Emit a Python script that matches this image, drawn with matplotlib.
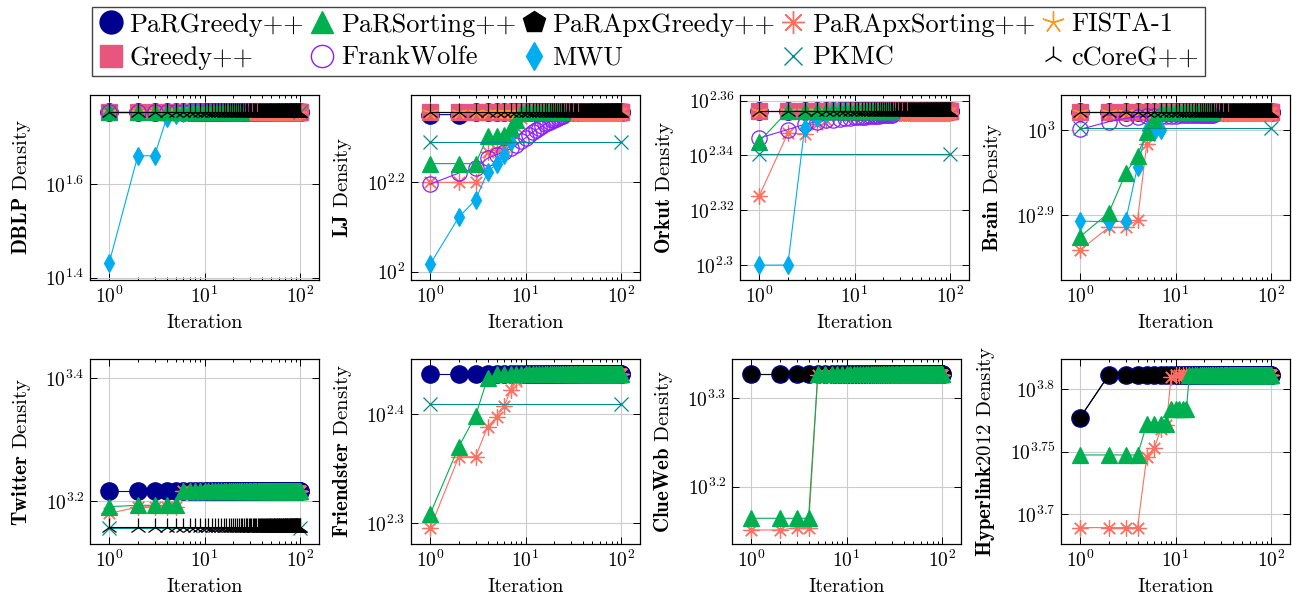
import numpy as np
import matplotlib
matplotlib.use('Agg')
import matplotlib.pyplot as plt
from matplotlib.lines import Line2D
from matplotlib.ticker import FixedLocator, FixedFormatter, NullLocator, NullFormatter

plt.rcParams['font.family'] = 'serif'
plt.rcParams['font.serif'] = ['cmr10']
plt.rcParams['mathtext.fontset'] = 'cm'
plt.rcParams['axes.unicode_minus'] = False

# ---------------- data: density at iteration 1, 2, 3, ... ----------------
pkmc_iters = [1, 100]   # PKMC only reports first and last value

# DBLP
dblp_flat = [56.75] * 100
dblp_fista = [56.75] * 20
dblp_sorting = [56.75] * 24
dblp_fw = [56.75] * 25
dblp_mwu = [26.98, 45.81, 45.81, 55.08, 55.98, 56.6, 56.75, 56.75]
dblp_pkmc = [56.75, 56.75]

# LJ
lj_flat = [228.0] * 100
lj_fista = [228.0] * 20
lj_pargreedy = [224.9, 224.9] + [228.0] * 98
lj_sorting = [174.6, 174.6, 174.6, 200.9, 200.9, 202.3, 210.4, 218.8, 226.5] + [228.0] * 15
lj_apxsorting = [158.5, 158.5, 158.5, 185.8, 187.1, 190.5, 199.5, 211.3, 221.3] + [227.0] * 91
lj_fw = [157.0, 166.3, 170.6, 179.5, 182.8, 185.8, 188.8, 192.3, 195.9, 199.5, 202.8, 205.6, 208.0,
         209.9, 211.8, 213.8, 215.3, 216.8, 218.3, 219.3, 220.3, 221.3, 222.3, 222.8, 223.4]
lj_mwu = [103.8, 132.4, 144.9, 167.1, 174.6, 182.8, 195.0, 213.8, 223.9, 227.5]
lj_pkmc = [195.7, 195.7]

# Orkut
orkut_flat = [227.1] * 100
orkut_fista = [227.1] * 20
orkut_sorting = [221.3] + [227.1] * 23
orkut_apxsorting = [211.4, 222.9, 222.8, 224.6, 225.4] + [226.7] * 95
orkut_fw = [222.0, 223.6, 224.6, 225.1, 225.4, 225.5, 225.6, 225.7, 225.8, 225.9, 225.9, 226.0, 226.0,
            226.1, 226.1, 226.2, 226.2, 226.2, 226.3, 226.3, 226.3, 226.4, 226.4, 226.4, 226.4]
orkut_mwu = [199.5, 199.5, 223.9, 225.7, 226.5, 227.1, 227.1, 227.1]
orkut_pkmc = [219.0, 219.0]

# Brain
brain_flat = [1050.8] * 100
brain_fista = [1050.8] * 20
brain_sorting = [748.9, 799.1, 889.2, 932.8, 995.4, 1030.4] + [1050.8] * 18
brain_apxsorting = [722.4, 768.2, 768.2, 783.4, 963.8, 1035.1] + [1047.1] * 94
brain_fw = [1001.8, 1022.8, 1032.3, 1036.8, 1037.8, 1038.5, 1039.0, 1039.4, 1039.7, 1040.0, 1040.2,
            1040.4, 1040.6, 1040.7, 1040.8, 1040.9, 1041.0, 1041.1, 1041.2, 1041.3, 1041.3, 1041.4,
            1041.4, 1041.5, 1041.5]
brain_mwu = [781.3, 779.8, 781.3, 905.7, 1000.0, 995.4, 1000.0]
brain_pkmc = [1004.6, 1004.6]

# Twitter
tw_pargreedy = [1645.6] * 100
tw_sorting = [1551.2, 1559.6, 1559.6, 1559.6, 1559.6] + [1645.6] * 95
tw_apxsorting = [1513.1, 1548.8, 1552.4, 1552.4, 1552.4] + [1645.6] * 95
tw_ccore = [1435.5] * 100
tw_pkmc = [1431.9, 1431.9]

# Friendster
fr_pargreedy = [273.4] * 100
fr_sorting = [203.4, 234.6, 250.4, 271.0] + [273.4] * 96
fr_apxsorting = [197.4, 229.6, 229.6, 244.6, 249.9, 255.8, 264.4, 269.2, 272.3] + [273.4] * 91
fr_pkmc = [256.6, 256.6]

# ClueWeb
cw_pargreedy = [2124.6] * 100
cw_apxgreedy = [2124.6] * 100
cw_sorting = [1459.5] * 4 + [2124.6] * 96
cw_apxsorting = [1415.7, 1415.7, 1423.9, 1423.9] + [2119.7] * 96

# Hyperlink2012
hl_pargreedy = [5987.0] + [6479.0] * 99
hl_apxgreedy = [5987.0] + [6479.0] * 99
hl_sorting = [5589.0] * 4 + [5916.0] * 4 + [6085.0] * 5 + [6479.0] * 87
hl_apxsorting = [4887.0] * 4 + [5572.0, 5659.0, 5861.0, 5902.0, 6457.0] + [6479.0] * 91

# ---------------- styles ----------------
styles = {
    'PaRGreedy++':     dict(color='#00008F', marker='o', ms=12.5, mfc='#00008F', z=2.00),
    'PaRApxGreedy++':  dict(color='black', marker='p', ms=12, mfc='black', z=2.05),
    'Greedy++':        dict(color='#E8557F', marker='s', ms=11.5, mfc='#E8557F', z=2.10),
    'PaRApxSorting++': dict(color='#FF6F61', marker=(8, 2, 0), ms=11.5, mfc='none', z=2.20),
    'FISTA-1':         dict(color='#FF9A1F', marker=(5, 2, 0), ms=11, mfc='none', z=2.25),
    'FrankWolfe':      dict(color='#8B1EFF', marker='o', ms=11, mfc='none', z=2.30),
    'MWU':             dict(color='#00AEEF', marker='d', ms=9, mfc='#00AEEF', z=2.35),
    'PaRSorting++':    dict(color='#00B050', marker='^', ms=11, mfc='#00B050', z=2.40),
    'PKMC':            dict(color='#008B8B', marker='x', ms=10, mfc='none', z=2.50),
    'cCoreG++':        dict(color='black', marker='2', ms=13, mfc='none', z=2.60),
}

panels = [
    ('DBLP', [('PaRGreedy++', dblp_flat), ('Greedy++', dblp_flat), ('PaRApxSorting++', dblp_flat),
              ('FISTA-1', dblp_fista), ('FrankWolfe', dblp_fw), ('MWU', dblp_mwu),
              ('PaRSorting++', dblp_sorting), ('PKMC', dblp_pkmc), ('cCoreG++', dblp_flat)],
     [1.4, 1.6, 1.8], ['$10^{1.4}$', '$10^{1.6}$', '$10^{1.8}$'], (1.395, 1.791)),
    ('LJ', [('PaRGreedy++', lj_pargreedy), ('Greedy++', lj_flat), ('PaRApxSorting++', lj_apxsorting),
            ('FISTA-1', lj_fista), ('FrankWolfe', lj_fw), ('MWU', lj_mwu),
            ('PaRSorting++', lj_sorting), ('PKMC', lj_pkmc), ('cCoreG++', lj_flat)],
     [2.0, 2.2, 2.4], ['$10^{2}$', '$10^{2.2}$', '$10^{2.4}$'], (1.981, 2.396)),
    ('Orkut', [('PaRGreedy++', orkut_flat), ('Greedy++', orkut_flat), ('PaRApxSorting++', orkut_apxsorting),
               ('FISTA-1', orkut_fista), ('FrankWolfe', orkut_fw), ('MWU', orkut_mwu),
               ('PaRSorting++', orkut_sorting), ('PKMC', orkut_pkmc), ('cCoreG++', orkut_flat)],
     [2.3, 2.32, 2.34, 2.36], ['$10^{2.3}$', '$10^{2.32}$', '$10^{2.34}$', '$10^{2.36}$'], (2.2945, 2.3621)),
    ('Brain', [('PaRGreedy++', brain_flat), ('Greedy++', brain_flat), ('PaRApxSorting++', brain_apxsorting),
               ('FISTA-1', brain_fista), ('FrankWolfe', brain_fw), ('MWU', brain_mwu),
               ('PaRSorting++', brain_sorting), ('PKMC', brain_pkmc), ('cCoreG++', brain_flat)],
     [2.9, 3.0], ['$10^{2.9}$', '$10^{3}$'], (2.8235, 3.0412)),
    ('Twitter', [('PaRGreedy++', tw_pargreedy), ('PaRApxSorting++', tw_apxsorting),
                 ('PaRSorting++', tw_sorting), ('PKMC', tw_pkmc), ('cCoreG++', tw_ccore)],
     [3.2, 3.4], ['$10^{3.2}$', '$10^{3.4}$'], (3.1299, 3.4315)),
    ('Friendster', [('PaRGreedy++', fr_pargreedy), ('PaRApxSorting++', fr_apxsorting),
                    ('PaRSorting++', fr_sorting), ('PKMC', fr_pkmc)],
     [2.3, 2.4], ['$10^{2.3}$', '$10^{2.4}$'], (2.281, 2.4507)),
    ('ClueWeb', [('PaRGreedy++', cw_pargreedy), ('PaRApxGreedy++', cw_apxgreedy),
                 ('PaRApxSorting++', cw_apxsorting), ('PaRSorting++', cw_sorting)],
     [3.2, 3.3], ['$10^{3.2}$', '$10^{3.3}$'], (3.1351, 3.3445)),
    ('Hyperlink2012', [('PaRGreedy++', hl_pargreedy), ('PaRApxGreedy++', hl_apxgreedy),
                       ('PaRApxSorting++', hl_apxsorting), ('PaRSorting++', hl_sorting)],
     [3.7, 3.75, 3.8], ['$10^{3.7}$', '$10^{3.75}$', '$10^{3.8}$'], (3.6759, 3.8243)),
]

W, H = 1299, 602
fig = plt.figure(figsize=(W / 100, H / 100), dpi=100)

# axes boxes in pixels: left, top, width, height
boxes = [(90, 95), (411, 95), (740, 95), (1061, 95),
         (90, 359), (411, 359), (732, 359), (1061, 359)]
aw, ah = 229, 185

for (left, top), (name, series, yt, ytl, ylim) in zip(boxes, panels):
    ax = fig.add_axes([left / W, 1 - (top + ah) / H, aw / W, ah / H])
    for method, vals in series:
        st = styles[method]
        xs = pkmc_iters if method == 'PKMC' else np.arange(1, len(vals) + 1)
        ax.plot(xs, vals, color=st['color'], lw=0.8, marker=st['marker'], ms=st['ms'],
                mfc=st['mfc'], mec=st['color'], mew=0.9, zorder=st['z'])
    ax.set_xscale('log')
    ax.set_yscale('log')
    ax.set_xlim(10 ** -0.2, 10 ** 2.2)
    ax.set_ylim(10 ** ylim[0], 10 ** ylim[1])
    ax.xaxis.set_major_locator(FixedLocator([1, 10, 100]))
    ax.xaxis.set_major_formatter(FixedFormatter(['$10^{0}$', '$10^{1}$', '$10^{2}$']))
    ax.xaxis.set_minor_locator(FixedLocator([m * d for d in (1, 10) for m in range(2, 10)]))
    ax.xaxis.set_minor_formatter(NullFormatter())
    ax.yaxis.set_major_locator(FixedLocator([10 ** v for v in yt]))
    ax.yaxis.set_major_formatter(FixedFormatter(ytl))
    ax.yaxis.set_minor_locator(NullLocator())
    ax.tick_params(which='both', direction='in', top=True, right=True, labelsize=14, width=0.7)
    ax.tick_params(which='major', length=5, pad=4)
    ax.tick_params(which='minor', length=2.5)
    ax.grid(True, which='major', color='#CCCCCC', lw=0.8, zorder=0)
    ax.set_axisbelow(True)
    for sp in ax.spines.values():
        sp.set_linewidth(0.9)
    ax.set_xlabel('Iteration', fontsize=14.5, labelpad=5)
    ax.set_ylabel(r'$\mathbf{' + name + '}$ Density', fontsize=15, labelpad=9)

# legend (filled column by column, so entries are interleaved to read row-wise)
order = ['PaRGreedy++', 'Greedy++', 'PaRSorting++', 'FrankWolfe', 'PaRApxGreedy++', 'MWU',
         'PaRApxSorting++', 'PKMC', 'FISTA-1', 'cCoreG++']
leg_ms = {'PaRGreedy++': 16.5, 'Greedy++': 16, 'PaRSorting++': 16, 'FrankWolfe': 16,
          'PaRApxGreedy++': 16.5, 'MWU': 14, 'PaRApxSorting++': 16.5, 'PKMC': 13,
          'FISTA-1': 16, 'cCoreG++': 15}
handles = [Line2D([], [], linestyle='none', marker=styles[m]['marker'], ms=leg_ms[m],
                  color=styles[m]['color'], mfc=styles[m]['mfc'], mec=styles[m]['color'], mew=1.0)
           for m in order]
leg = fig.legend(handles, order, loc='upper center', bbox_to_anchor=(648.5 / W, 1 - 7 / H), ncol=5,
                 fontsize=19, fancybox=False, edgecolor='#444444', framealpha=1,
                 handlelength=1.0, handletextpad=0.2, columnspacing=0.18, borderpad=0.22,
                 labelspacing=0.36, borderaxespad=0)
leg.get_frame().set_linewidth(1.0)

fig.savefig('out.png', dpi=100)
